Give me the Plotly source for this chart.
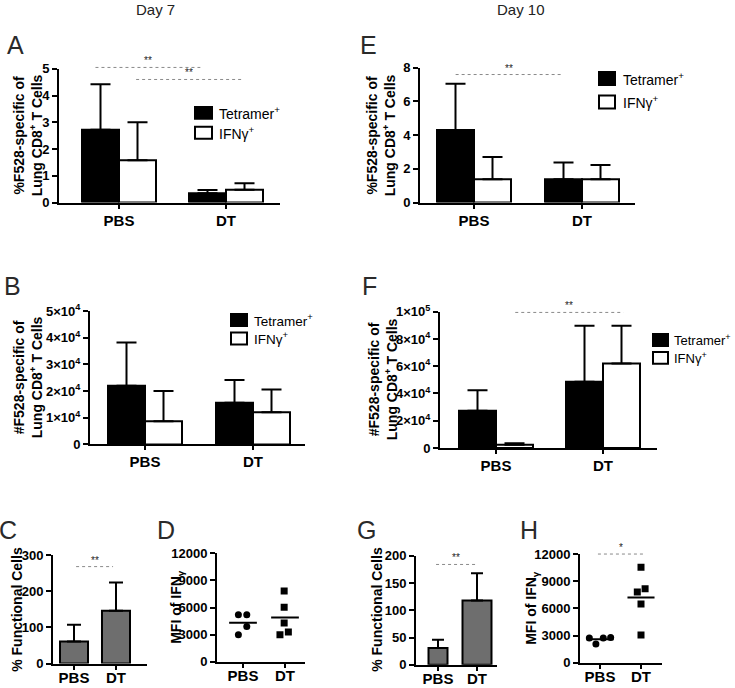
import numpy as np
import plotly.graph_objects as go

# ---------------- data ----------------
groups = ["PBS", "DT"]
series_names = ["Tetramer<sup>+</sup>", "IFNγ<sup>+</sup>"]

# A: Day 7, % F528-specific of lung CD8+ T cells
a_tet = [2.72, 0.35]
a_tet_sd = [1.70, 0.12]
a_ifn = [1.58, 0.48]
a_ifn_sd = [1.42, 0.24]

# B: Day 7, # F528-specific of lung CD8+ T cells
b_tet = [22000, 15600]
b_tet_sd = [16200, 8600]
b_ifn = [8700, 12100]
b_ifn_sd = [11300, 8500]

# C: Day 7, % functional cells
c_func = [61, 146]
c_func_sd = [46, 78]

# D: Day 7, MFI of IFNg
d_pbs = [5200, 5200, 3900, 3000]
d_dt = [7850, 6050, 4300, 3300, 3000]

# E: Day 10, % F528-specific
e_tet = [4.30, 1.38]
e_tet_sd = [2.75, 1.00]
e_ifn = [1.38, 1.38]
e_ifn_sd = [1.32, 0.85]

# F: Day 10, # F528-specific
f_tet = [27300, 48600]
f_tet_sd = [15000, 41200]
f_ifn = [2300, 62000]
f_ifn_sd = [1200, 27800]

# G: Day 10, % functional cells
g_func = [31, 118]
g_func_sd = [15, 50]

# H: Day 10, MFI of IFNg
h_pbs = [2750, 2090, 2750, 2810]
h_dt = [10540, 7800, 8160, 6480, 3080]

# column-scatter horizontal spread (category units)
d_pbs_jit = [-0.11, 0.09, 0.09, -0.11]
d_dt_jit = [-0.02, -0.02, -0.02, 0.08, -0.12]
h_pbs_jit = [-0.26, -0.10, 0.08, 0.26]
h_dt_jit = [0.0, -0.09, 0.10, 0.0, 0.0]

# significance annotations: panel, x from, x to (category units), height (data units), label
sig = [
    ("A", -0.22, 0.76, 5.05, "**"),
    ("A", 0.16, 1.15, 4.60, "**"),
    ("E", -0.17, 0.81, 7.60, "**"),
    ("F", 0.18, 1.19, 99500, "**"),
    ("C", 0.05, 0.93, 268, "**"),
    ("G", -0.05, 0.95, 184, "**"),
    ("H", -0.05, 1.05, 12000, "*"),
]

y_ticks = {
    "A": ([0, 1, 2, 3, 4, 5], ["0", "1", "2", "3", "4", "5"]),
    "B": ([0, 1e4, 2e4, 3e4, 4e4, 5e4],
          ["0", "1×10<sup>4</sup>", "2×10<sup>4</sup>", "3×10<sup>4</sup>", "4×10<sup>4</sup>", "5×10<sup>4</sup>"]),
    "C": ([0, 100, 200, 300], ["0", "100", "200", "300"]),
    "D": ([0, 3000, 6000, 9000, 12000], ["0", "3000", "6000", "9000", "12000"]),
    "E": ([0, 2, 4, 6, 8], ["0", "2", "4", "6", "8"]),
    "F": ([0, 2e4, 4e4, 6e4, 8e4, 1e5],
          ["0", "2×10<sup>4</sup>", "4×10<sup>4</sup>", "6×10<sup>4</sup>", "8×10<sup>4</sup>", "1×10<sup>5</sup>"]),
    "G": ([0, 50, 100, 150, 200], ["0", "50", "100", "150", "200"]),
    "H": ([0, 3000, 6000, 9000, 12000], ["0", "3000", "6000", "9000", "12000"]),
}

# ---------------- layout geometry (pixels, as measured on the target) ----------------
W, H = 735, 688
# vertical calibration of the page photograph (target px -> layout px)
V_OFF, V_SCALE = 6.67, 0.9794


def ry(px):
    return (px - V_OFF) / V_SCALE


geom = {
    "A": dict(n=1, xl=59, xr=280, yt=66.7, yb=201, c0=119, unit=107, ymax=5, so=-1),
    "B": dict(n=2, xl=90, xr=305, yt=310, yb=444, c0=145, unit=108, ymax=5e4, so=-1),
    "C": dict(n=3, xl=53, xr=147, yt=555, yb=664, c0=74, unit=42, ymax=300, so=-5),
    "D": dict(n=4, xl=217, xr=305, yt=553.3, yb=662.3, c0=243, unit=42, ymax=12000, so=-5),
    "E": dict(n=5, xl=420, xr=635, yt=65.7, yb=201, c0=474, unit=108, ymax=8, so=-1),
    "F": dict(n=6, xl=440, xr=657, yt=310.7, yb=447.5, c0=496, unit=107, ymax=1e5, so=-1),
    "G": dict(n=7, xl=416, xr=497, yt=555.7, yb=665.3, c0=438, unit=39, ymax=200, so=-5),
    "H": dict(n=8, xl=580, xr=662, yt=554, yb=663.3, c0=600, unit=41, ymax=12000, so=-5),
}

# hand-drawn legends: square left/right, row centres, text left (pixels)
legend_geom = {
    "A": dict(sx0=195, sx1=212, rows=[111, 131], tx=218, sh=12, fs=14),
    "B": dict(sx0=231, sx1=247, rows=[319, 337.5], tx=253, sh=12, fs=13.5),
    "E": dict(sx0=599, sx1=615, rows=[76.5, 100], tx=622, sh=13, fs=14),
    "F": dict(sx0=653, sx1=668, rows=[339, 357], tx=673, sh=12, fs=13),
}

FONT = "Liberation Sans, Arial, Helvetica, sans-serif"


def xp(p, v):
    g = geom[p]
    return (g["c0"] + v * g["unit"]) / W


def yp(p, v):
    g = geom[p]
    return 1 - ry(g["yb"] - v / g["ymax"] * (g["yb"] - g["yt"])) / H


def pyp(px):
    return 1 - ry(px) / H


def axn(p):
    n = geom[p]["n"]
    return ("x" if n == 1 else f"x{n}"), ("y" if n == 1 else f"y{n}")


fig = go.Figure()
cats = np.arange(len(groups))
fills = ["black", "white"]


def grouped(p, tet, tet_sd, ifn, ifn_sd, bw_px=37, cap=10):
    xa, ya = axn(p)
    w = bw_px / geom[p]["unit"]
    for vals, sd, fill, name, off in [
        (tet, tet_sd, fills[0], series_names[0], -w),
        (ifn, ifn_sd, fills[1], series_names[1], 0.0),
    ]:
        fig.add_trace(go.Bar(
            x=cats, y=vals, width=w, offset=off,
            marker=dict(color=fill, line=dict(color="black", width=2)),
            error_y=dict(type="data", symmetric=False, array=sd,
                         arrayminus=[0] * len(sd), color="black",
                         thickness=2, width=cap),
            name=name, showlegend=False,
            xaxis=xa, yaxis=ya, hoverinfo="skip",
        ))


def single(p, vals, sd, widths_px, cap):
    xa, ya = axn(p)
    widths = [wp / geom[p]["unit"] for wp in widths_px]
    fig.add_trace(go.Bar(
        x=cats, y=vals, width=widths,
        marker=dict(color="#6e6e6e", line=dict(color="black", width=2)),
        error_y=dict(type="data", symmetric=False, array=sd,
                     arrayminus=[0] * len(sd), color="black",
                     thickness=2, width=cap),
        showlegend=False, xaxis=xa, yaxis=ya, hoverinfo="skip",
    ))


def scatter(p, pbs, pbs_jit, dt, dt_jit):
    xa, ya = axn(p)
    for i, (vals, jit, sym) in enumerate([(pbs, pbs_jit, "circle"), (dt, dt_jit, "square")]):
        fig.add_trace(go.Scatter(
            x=[i + j for j in jit], y=vals, mode="markers",
            marker=dict(symbol=sym, size=7, color="black"),
            showlegend=False, xaxis=xa, yaxis=ya, hoverinfo="skip",
        ))
        m = float(np.mean(vals))
        fig.add_trace(go.Scatter(
            x=[i - 0.33, i + 0.33], y=[m, m], mode="lines",
            line=dict(color="black", width=2),
            showlegend=False, xaxis=xa, yaxis=ya, hoverinfo="skip",
        ))


grouped("A", a_tet, a_tet_sd, a_ifn, a_ifn_sd)
grouped("B", b_tet, b_tet_sd, b_ifn, b_ifn_sd)
grouped("E", e_tet, e_tet_sd, e_ifn, e_ifn_sd)
grouped("F", f_tet, f_tet_sd, f_ifn, f_ifn_sd)
single("C", c_func, c_func_sd, [28, 28], 7)
single("G", g_func, g_func_sd, [19, 29], 6)
scatter("D", d_pbs, d_pbs_jit, d_dt, d_dt_jit)
scatter("H", h_pbs, h_pbs_jit, h_dt, h_dt_jit)

layout = {}
for p, g in geom.items():
    n = g["n"]
    xk = "xaxis" if n == 1 else f"xaxis{n}"
    yk = "yaxis" if n == 1 else f"yaxis{n}"
    ya = "y" if n == 1 else f"y{n}"
    xa = "x" if n == 1 else f"x{n}"
    layout[xk] = dict(
        domain=[g["xl"] / W, g["xr"] / W], anchor=ya,
        range=[(g["xl"] - g["c0"]) / g["unit"], (g["xr"] - g["c0"]) / g["unit"]],
        tickvals=list(cats), ticktext=groups,
        showline=True, linecolor="black", linewidth=2,
        ticks="outside", ticklen=4, tickwidth=2, tickcolor="black",
        showgrid=False, zeroline=False, ticklabelstandoff=g["so"],
        tickfont=dict(family=FONT, size=15, color="black", weight="bold"),
        fixedrange=True,
    )
    tv, tt = y_ticks[p]
    layout[yk] = dict(
        domain=[pyp(g["yb"]), pyp(g["yt"])], anchor=xa,
        range=[0, g["ymax"]], tickvals=tv, ticktext=tt,
        showline=True, linecolor="black", linewidth=2,
        ticks="outside", ticklen=5, tickwidth=2, tickcolor="black",
        showgrid=False, zeroline=False,
        tickfont=dict(family=FONT, size=13, color="black", weight="bold"),
        fixedrange=True,
    )

annotations = []
shapes = []

# legends
for p, lg in legend_geom.items():
    for name, fill, cy in zip(series_names, fills, lg["rows"]):
        shapes.append(dict(type="rect", xref="paper", yref="paper",
                           x0=lg["sx0"] / W, x1=lg["sx1"] / W,
                           y0=pyp(cy + lg["sh"] / 2), y1=pyp(cy - lg["sh"] / 2),
                           fillcolor=fill, line=dict(color="black", width=2)))
        annotations.append(dict(text=name, xref="paper", yref="paper",
                                x=lg["tx"] / W, y=pyp(cy), xanchor="left", yanchor="middle",
                                showarrow=False, borderpad=0,
                                font=dict(family=FONT, size=lg["fs"], color="black")))

# significance lines
for p, x0, x1, h, lab in sig:
    shapes.append(dict(type="line", xref="paper", yref="paper",
                       x0=xp(p, x0), x1=xp(p, x1), y0=yp(p, h), y1=yp(p, h),
                       line=dict(color="#8a8a8a", width=1, dash="dot")))
    annotations.append(dict(text=lab, xref="paper", yref="paper",
                            x=(xp(p, x0) + xp(p, x1)) / 2, y=yp(p, h),
                            xanchor="center", yanchor="bottom", showarrow=False,
                            borderpad=0,
                            font=dict(family=FONT, size=10, color="#222")))

# panel letters
letters = {"A": (16, 43), "B": (12, 285), "C": (8, 530), "D": (166, 530),
           "E": (368, 43), "F": (369, 285), "G": (366, 530), "H": (529, 530)}
for t, (lx, ly) in letters.items():
    annotations.append(dict(text=t, xref="paper", yref="paper", x=lx / W, y=pyp(ly),
                            xanchor="center", yanchor="middle", showarrow=False,
                            font=dict(family=FONT, size=25, color="#2a2a2a")))

# day headers
for t, (lx, ly) in {"Day 7": (155, 7), "Day 10": (521, 7)}.items():
    annotations.append(dict(text=t, xref="paper", yref="paper", x=lx / W, y=pyp(ly),
                            xanchor="center", yanchor="middle", showarrow=False,
                            font=dict(family=FONT, size=15, color="#222")))

# y-axis titles
pct_title = "%F528-specific of<br>Lung CD8<sup>+</sup> T Cells"
num_title = "#F528-specific of<br>Lung CD8<sup>+</sup> T Cells"
func_title = "% Functional Cells"
mfi_title = "MFI of IFN<sub>γ</sub>"
ytitles = [
    (pct_title, 27.5, 134), (num_title, 27.5, 377), (func_title, 17, 610),
    (mfi_title, 177, 607), (pct_title, 380.5, 133), (num_title, 382.5, 379),
    (func_title, 377, 610), (mfi_title, 532, 608),
]
for t, tx, ty in ytitles:
    annotations.append(dict(text=t, xref="paper", yref="paper", x=tx / W, y=pyp(ty),
                            xanchor="center", yanchor="middle", showarrow=False,
                            textangle=-90,
                            font=dict(family=FONT, size=14, color="black", weight="bold")))

fig.update_layout(
    width=W, height=H, autosize=False,
    margin=dict(l=0, r=0, t=0, b=0),
    paper_bgcolor="white", plot_bgcolor="white",
    barmode="overlay", hovermode=False,
    font=dict(family=FONT, color="black"),
    annotations=annotations, shapes=shapes,
    **layout,
)

fig.write_html("out.html", config={"displayModeBar": False},
               post_script="document.body.style.margin='0';document.body.style.padding='0';")
